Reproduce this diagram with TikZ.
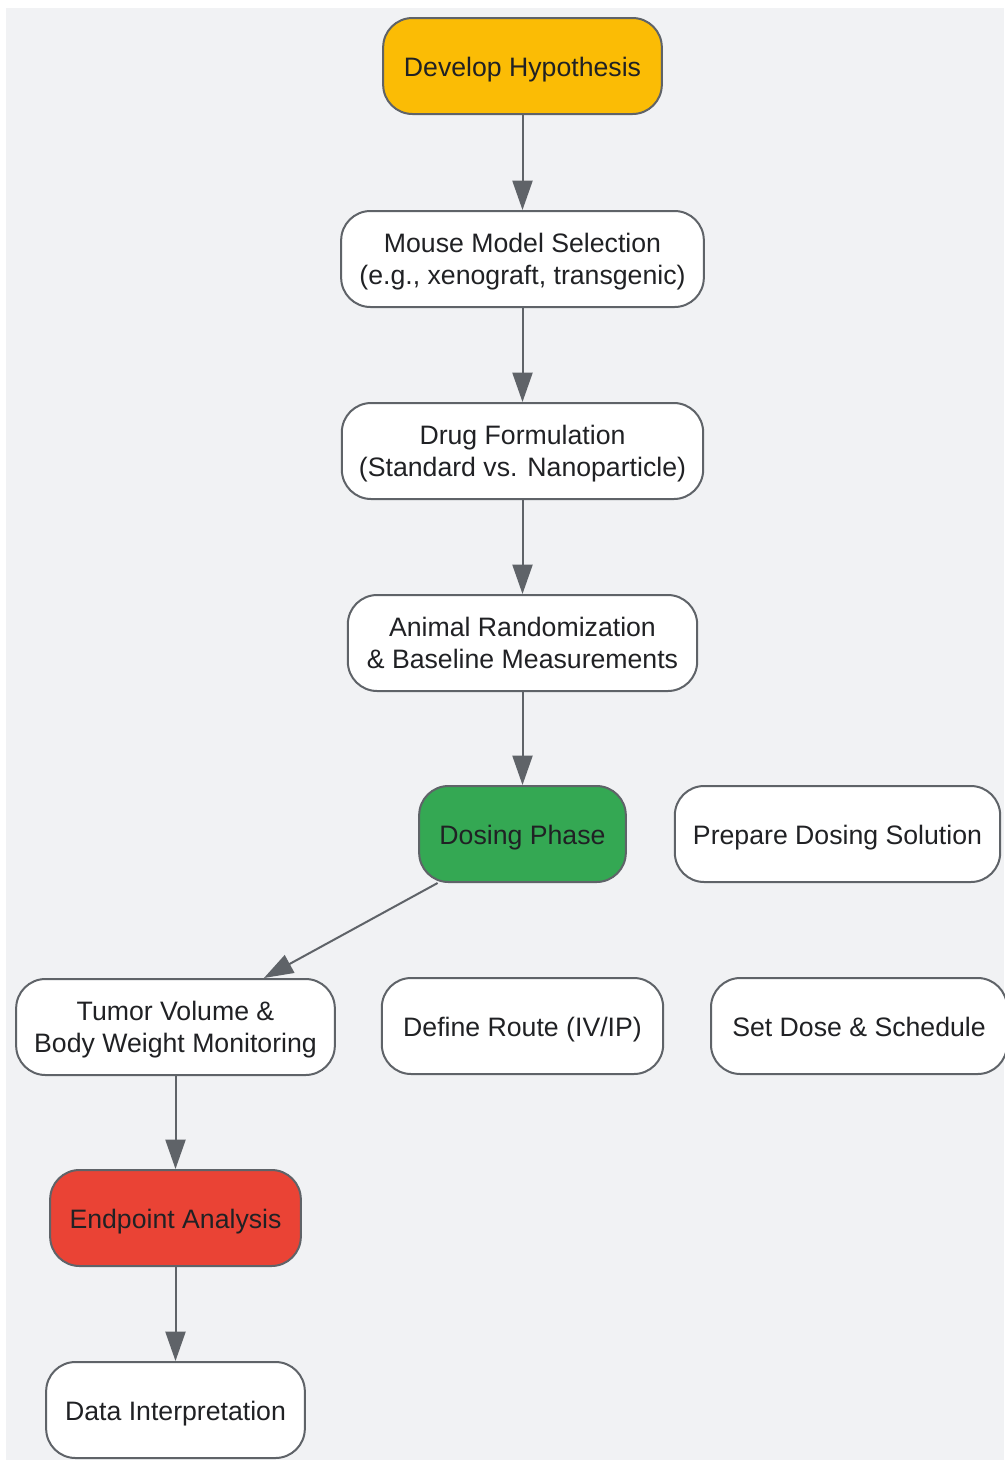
\documentclass[tikz,border=0pt]{standalone}
\usepackage{fontspec}
\setmainfont{Liberation Sans}
\usetikzlibrary{arrows.meta}
\definecolor{linegray}{HTML}{5F6368}
\definecolor{textdark}{HTML}{202124}
\definecolor{bggray}{HTML}{F1F2F4}
\definecolor{hypyellow}{HTML}{FBBC05}
\definecolor{dosegreen}{HTML}{34A853}
\definecolor{endred}{HTML}{EA4335}
\begin{document}
\begin{tikzpicture}[x=0.75pt,y=-0.75pt,
  stagebox/.style={draw=linegray, line width=1.5pt, fill=white, rounded corners=22pt,
    minimum height=72pt, align=center, text=textdark, font=\fontsize{20}{24}\selectfont},
  oneline/.style={stagebox, text height=19pt, text depth=4pt},
  twoline/.style={stagebox, text depth=0pt},
  flow/.style={-{Triangle[length=22pt,width=15pt]}, draw=linegray, line width=1.5pt}]
\useasboundingbox (0,0) rectangle (1004,1461);
\fill[bggray] (6,8) rectangle (1004,1460);
\node[oneline, fill=hypyellow, minimum width=209pt] (hyp) at (522.5,66) {Develop Hypothesis};
\node[twoline, minimum width=272pt] (model) at (522.5,259) {Mouse Model Selection\\(e.g., xenograft, transgenic)};
\node[twoline, minimum width=271pt] (form) at (522.5,451) {Drug Formulation\\(Standard vs. Nanoparticle)};
\node[twoline, minimum width=262pt] (rand) at (522.5,643) {Animal Randomization\\\& Baseline Measurements};
\node[oneline, fill=dosegreen, minimum width=155pt] (dose) at (522.5,834) {Dosing Phase};
\node[oneline, minimum width=244pt] (prep) at (837.5,834) {Prepare Dosing Solution};
\node[twoline, minimum width=239pt] (tumor) at (175.5,1027) {Tumor Volume \&\\Body Weight Monitoring};
\node[oneline, minimum width=211pt] (route) at (522.5,1026) {Define Route (IV/IP)};
\node[oneline, minimum width=222pt] (sched) at (859,1026) {Set Dose \& Schedule};
\node[oneline, fill=endred, minimum width=188pt] (endp) at (175.5,1218) {Endpoint Analysis};
\node[oneline, minimum width=194pt] (interp) at (175.5,1410) {Data Interpretation};
\draw[flow] (hyp) -- (model);
\draw[flow] (model) -- (form);
\draw[flow] (form) -- (rand);
\draw[flow] (rand) -- (dose);
\draw[flow] (dose.210) -- (tumor.29.5);
\draw[flow] (tumor) -- (endp);
\draw[flow] (endp) -- (interp);
\end{tikzpicture}
\end{document}
